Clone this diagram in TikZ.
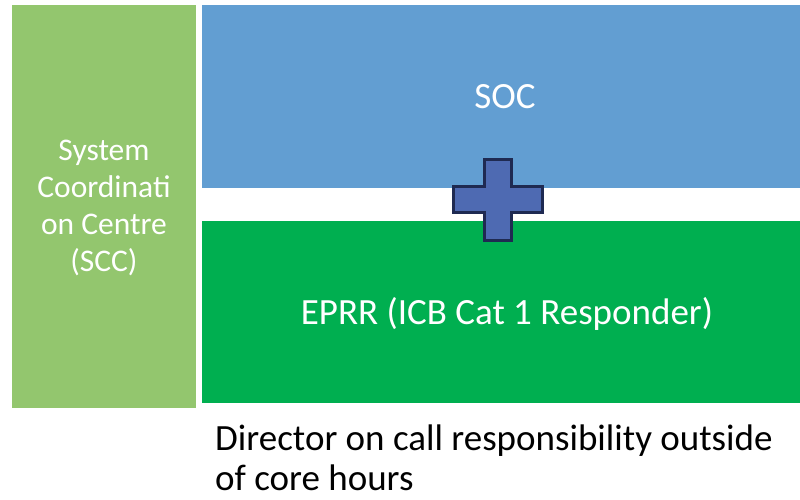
\documentclass[tikz,border=0pt]{standalone}
\usepackage{fontspec}
\setmainfont{Carlito}
\begin{document}
\begin{tikzpicture}[x=1pt,y=-1pt,
  sidetext/.style={text=white,font=\fontsize{31.5}{37.3}\selectfont,align=center},
  paneltext/.style={text=white,font=\fontsize{37}{44}\selectfont,anchor=base,inner sep=0pt},
  notetext/.style={text=black,font=\fontsize{37}{40}\selectfont,align=left,anchor=base west,inner sep=0pt}]
  \definecolor{sccgreen}{HTML}{93C66E}
  \definecolor{socblue}{HTML}{629ED2}
  \definecolor{eprrgreen}{HTML}{00AF50}
  \definecolor{crossfill}{HTML}{4E6AB2}
  \definecolor{crossline}{HTML}{1F2A52}
  \useasboundingbox (0,0) rectangle (800,499);
  % panels
  \fill[sccgreen] (12,5) rectangle (196,408);
  \fill[socblue] (202,5) rectangle (800,188);
  \fill[eprrgreen] (202,221) rectangle (800,403);
  % labels
  \node[sidetext] (scc) at (104,208) {System\\Coordinati\\on Centre\\(SCC)};
  \node[paneltext] (soc) at (505,108) {SOC};
  \node[paneltext] (eprr) at (507,324) {EPRR (ICB Cat 1 Responder)};
  % plus sign between the two panels
  \draw[fill=crossfill,draw=crossline,line width=3pt,line join=miter]
    (484,159) -- (511,159) -- (511,186) -- (542,186) -- (542,212) -- (511,212)
    -- (511,240) -- (484,240) -- (484,212) -- (453,212) -- (453,186) -- (484,186) -- cycle;
  % note below; the base anchor sits on the last line
  \node[notetext] (note) at (215,490.5) {Director on call responsibility outside\\of core hours};
\end{tikzpicture}
\end{document}
